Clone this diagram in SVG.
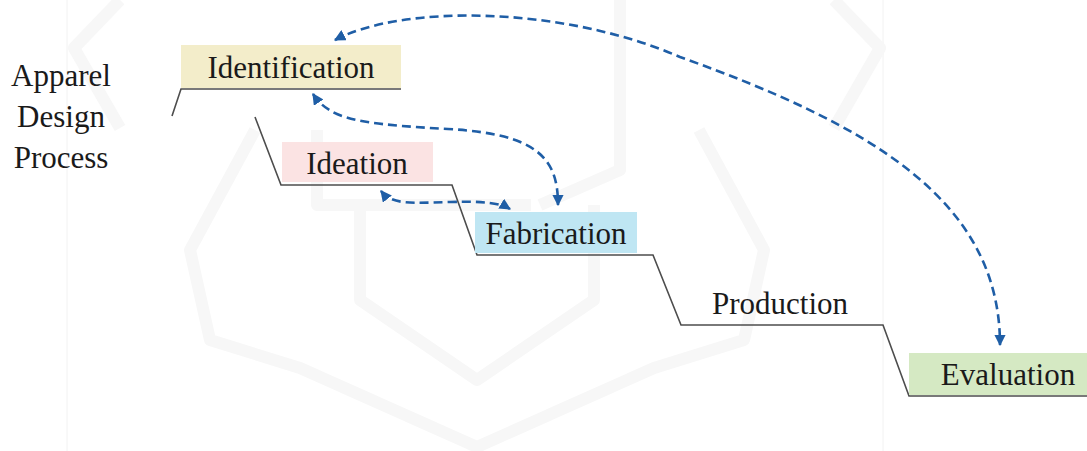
<svg xmlns="http://www.w3.org/2000/svg" width="1087" height="451" viewBox="0 0 1087 451">
  <style>
    text { font-family: 'Liberation Serif', 'Times New Roman', Times, 'DejaVu Serif', serif; font-size: 31px; fill: #1a1a1a; }
    .step { fill: none; stroke: #4d4d4d; stroke-width: 1.6; stroke-linejoin: miter; }
    .link { fill: none; stroke: #1f5ea6; stroke-width: 2.6; stroke-dasharray: 9 5; }
    .mark { fill: none; stroke: #f7f7f7; stroke-width: 12; stroke-linejoin: round; }
    .rule { stroke: #f2f2f2; stroke-width: 1; }
  </style>
  <defs>
    <marker id="tip" viewBox="0 0 10 10" refX="9" refY="5" markerWidth="4.4" markerHeight="4.4" orient="auto-start-reverse" markerUnits="strokeWidth">
      <path d="M0,0 L10,5 L0,10 Z" fill="#1f5ea6"/>
    </marker>
  </defs>

  <rect width="1087" height="451" fill="#ffffff"/>

  <!-- faint background emblem -->
  <g id="emblem">
    <line class="rule" x1="67" y1="0" x2="67" y2="451"/>
    <line class="rule" x1="883" y1="0" x2="883" y2="451"/>
    <path class="mark" d="M120,0 L74,48 L120,128"/>
    <path class="mark" d="M834,0 L880,48 L834,128"/>
    <path class="mark" d="M255,130 L190,250 L210,340 L300,368 L477,447 L654,368 L744,340 L764,250 L699,130"/>
    <path class="mark" d="M360,205 L360,300 L477,380 L594,300 L594,205"/>
    <path class="mark" d="M317,130 L317,205 L531,205"/>
    <path class="mark" d="M620,0 L620,170 L540,205"/>
  </g>

  <!-- staircase outline -->
  <g id="staircase">
    <path class="step" d="M172,116 L181,89 L401,89"/>
    <path class="step" d="M255,117 L281,185 L452,185 L477,255 L653,255 L681,325 L883,325 L909,396 L1087,396"/>
  </g>

  <g id="title" font-family="Liberation Serif, serif">
    <text x="61" y="86" text-anchor="middle">Apparel</text>
    <text x="61" y="127" text-anchor="middle">Design</text>
    <text x="61" y="168" text-anchor="middle">Process</text>
  </g>

  <g id="identification">
    <rect x="181" y="45" width="220" height="43" fill="#f3edca"/>
    <text x="291" y="78" text-anchor="middle">Identification</text>
  </g>

  <g id="ideation">
    <rect x="282" y="142" width="151" height="40" fill="#fbe3e3"/>
    <text x="357" y="174" text-anchor="middle">Ideation</text>
  </g>

  <g id="fabrication">
    <rect x="475" y="212" width="162" height="41" fill="#bfe6f3"/>
    <text x="556" y="244" text-anchor="middle">Fabrication</text>
  </g>

  <g id="production">
    <text x="780" y="314" text-anchor="middle">Production</text>
  </g>

  <g id="evaluation">
    <rect x="909" y="353" width="178" height="42" fill="#d5e9c3"/>
    <text x="1008" y="385" text-anchor="middle">Evaluation</text>
  </g>

  <!-- feedback loops -->
  <g id="connectors">
    <path class="link" marker-start="url(#tip)" marker-end="url(#tip)" d="M335,40 C400,5 560,5 680,57 C870,125 1000,200 1000,345"/>
    <path class="link" marker-start="url(#tip)" marker-end="url(#tip)" d="M313,94 C330,120 360,124 448,129 C540,134 558,160 558,205"/>
    <path class="link" marker-start="url(#tip)" marker-end="url(#tip)" d="M381,191 C392,205 410,203 450,202 C485,201 500,203 510,209"/>
  </g>
</svg>
